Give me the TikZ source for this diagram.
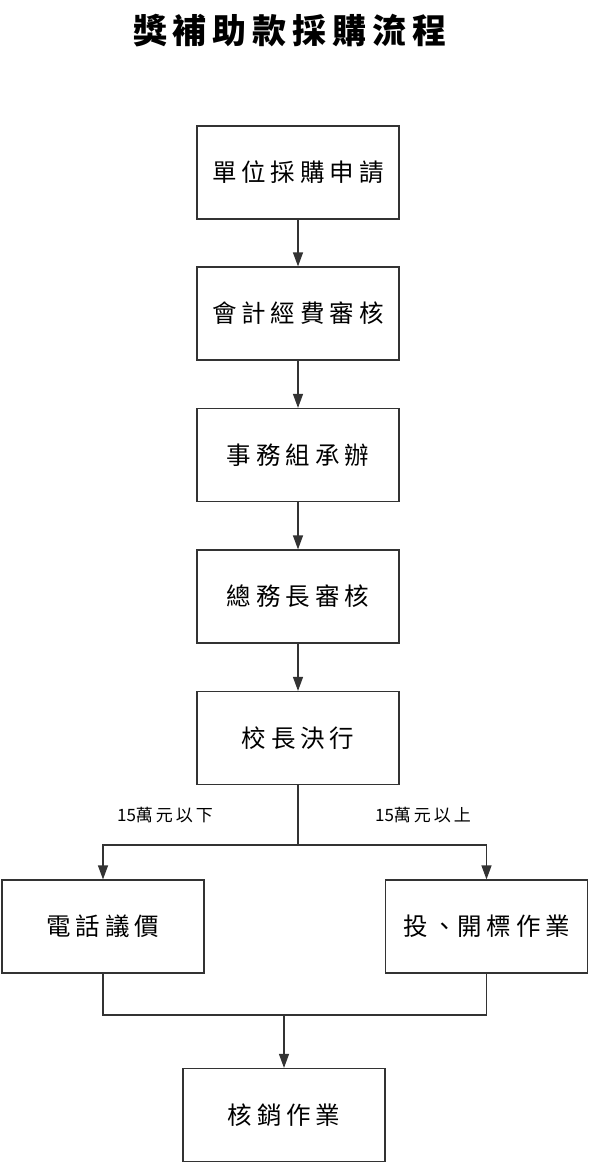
\documentclass[tikz,border=0pt]{standalone}
\usepackage{fontspec}
\setmainfont{Noto Sans CJK TC}
\newfontfamily\cjk{Noto Sans CJK TC}
\usetikzlibrary{arrows.meta}
\definecolor{ln}{HTML}{333333}
\newcommand\K{\kern5pt}
\newcommand\T{\kern6pt}
\newcommand\Lk{\kern3pt}
\begin{document}
\begin{tikzpicture}[x=1pt,y=-1pt,
  stepbox/.style={draw=ln,line width=1.2pt,rectangle,minimum width=202pt,minimum height=93pt,inner sep=0pt,font=\cjk\fontsize{24.5pt}{26pt}\selectfont},
  conn/.style={draw=ln,line width=1.2pt},
  arr/.style={conn,-{Triangle[length=14pt,width=10pt]}},
  lbl/.style={font=\cjk\fontsize{17pt}{19pt}\selectfont,inner sep=0pt}]
\useasboundingbox (0,0) rectangle (592,1164);
\node[font=\cjk\bfseries\fontsize{34pt}{37pt}\selectfont,inner sep=0pt] (title) at (290,31) {獎\T 補\T 助\T 款\T 採\T 購\T 流\T 程};
\node[stepbox] (b1) at (298,172.5) {單\K 位\K 採\K 購\K 申\K 請};
\node[stepbox] (b2) at (298,313.5) {會\K 計\K 經\K 費\K 審\K 核};
\node[stepbox] (b3) at (298,455) {事\K 務\K 組\K 承\K 辦};
\node[stepbox] (b4) at (298,596.5) {總\K 務\K 長\K 審\K 核};
\node[stepbox] (b5) at (298,738) {校\K 長\K 決\K 行};
\node[stepbox] (bl) at (103,926.5) {電\K 話\K 議\K 價};
\node[stepbox] (br) at (486.5,926.5) {投\K 、開\K 標\K 作\K 業};
\node[stepbox] (bb) at (284,1115) {核\K 銷\K 作\K 業};
\node[lbl] (l1) at (165,815) {15萬\Lk 元\Lk 以\Lk 下};
\node[lbl] (l2) at (423,815) {15萬\Lk 元\Lk 以\Lk 上};
\draw[arr] (b1) -- (b2);
\draw[arr] (b2) -- (b3);
\draw[arr] (b3) -- (b4);
\draw[arr] (b4) -- (b5);
\coordinate (j1) at (298,845);
\coordinate (j2) at (284,1015);
\draw[conn] (b5.south) -- (j1);
\draw[arr] (j1) -| (bl.north);
\draw[arr] (j1) -| (br.north);
\draw[conn] (bl.south) |- (j2) -| (br.south);
\draw[arr] (j2) -- (bb.north);
\end{tikzpicture}
\end{document}
